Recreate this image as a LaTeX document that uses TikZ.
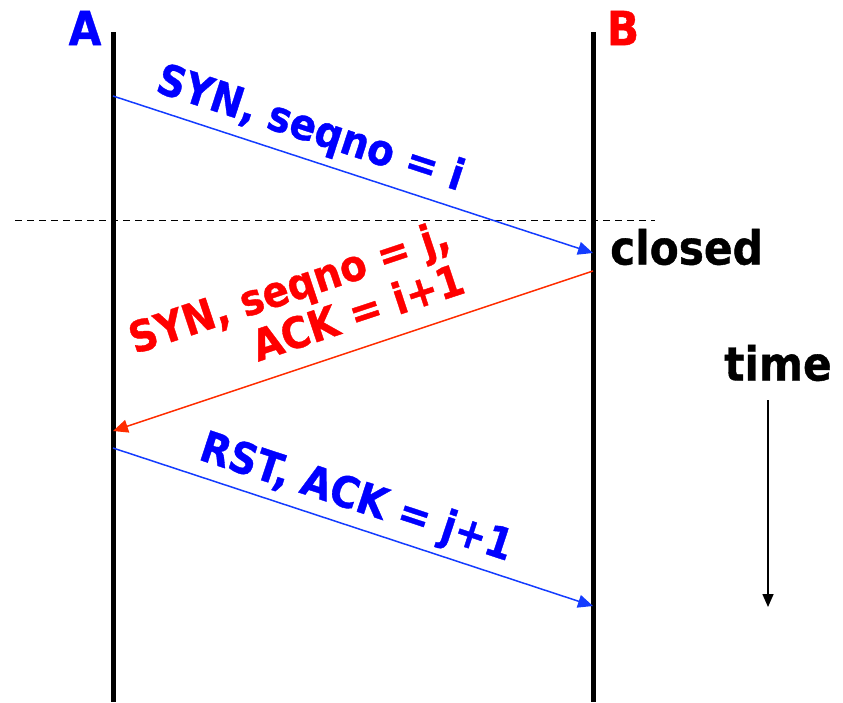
\documentclass[tikz,border=0pt]{standalone}
\usepackage{fontspec}
\setmainfont{DejaVu Sans Condensed}[BoldFeatures={FakeBold=0.8}]
\usetikzlibrary{arrows.meta}
\definecolor{msgblue}{RGB}{20,60,255}
\definecolor{msgred}{RGB}{255,45,0}
\definecolor{txtblue}{RGB}{0,0,255}
\definecolor{txtred}{RGB}{255,0,0}
\tikzset{
  lifeline/.style={line width=5pt},
  msg/.style={line width=1.5pt,-{Triangle[length=15pt,width=13pt]}},
  big/.style={font=\fontsize{47}{50}\selectfont\bfseries, inner sep=0pt},
  lbl/.style={font=\fontsize{43}{46}\selectfont\bfseries, inner sep=0pt},
}
\begin{document}
\begin{tikzpicture}[x=1pt,y=-1pt]
\useasboundingbox (0,0) rectangle (843,702);
% lifelines
\coordinate (Atop) at (113,32);
\coordinate (Abot) at (113,702);
\coordinate (Btop) at (593,32);
\coordinate (Bbot) at (593,702);
\draw[lifeline] (Atop) -- (Abot);
\draw[lifeline] (Btop) -- (Bbot);
\node[big, txtblue] (A) at (85,28) {A};
\node[big, txtred] (B) at (623,28) {B};
% connection closed
\coordinate (dl) at (15,220);
\coordinate (dr) at (655,220);
\draw[dashed, line width=1pt, dash pattern=on 7pt off 5pt] (dl) -- (dr);
\node[big, anchor=west] (closed) at (610,247) {closed};
% message endpoints
\coordinate (a1) at (113,96);
\coordinate (b1) at (593,253);
\coordinate (b2) at (593,271);
\coordinate (a2) at (113,431);
\coordinate (a3) at (113,448);
\coordinate (b3) at (593,606);
\draw[msg, msgblue] (a1) -- (b1);
\draw[msg, msgred] (b2) -- (a2);
\draw[msg, msgblue] (a3) -- (b3);
\node[lbl, txtblue, rotate=-18.1] (m1) at (310,130) {SYN, seqno = i};
\node[lbl, txtred, rotate=18.4, align=right] (m2) at (296,308) {SYN, seqno = j,\\ACK = i+1};
\node[lbl, txtblue, rotate=-18.2] (m3) at (356,499) {RST, ACK = j+1};
% time axis
\node[big] (time) at (778,363) {time};
\coordinate (t0) at (768,400);
\coordinate (t1) at (768,607);
\draw[line width=1.5pt, -{Triangle[length=13pt,width=11pt]}] (t0) -- (t1);
\end{tikzpicture}
\end{document}
